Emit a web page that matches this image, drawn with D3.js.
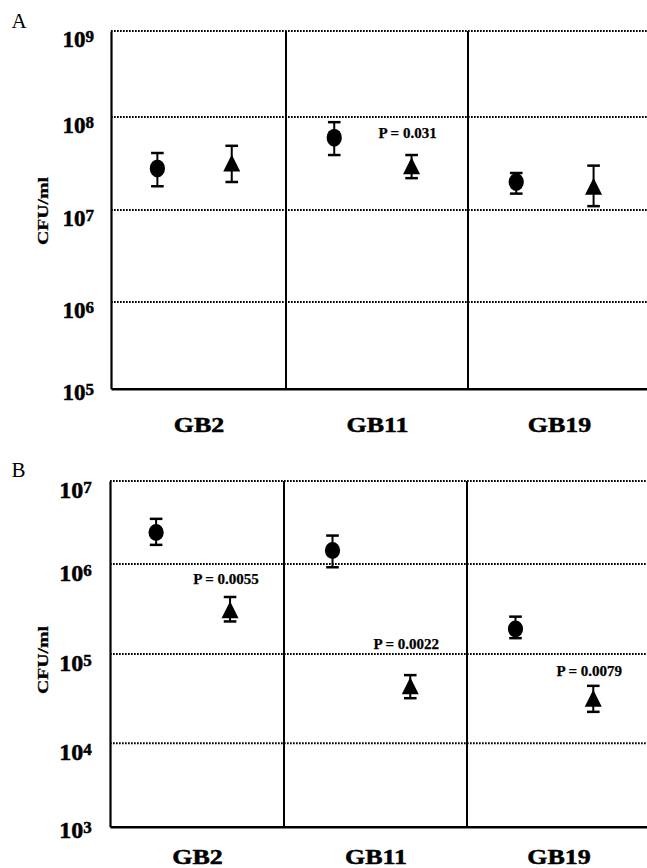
<!DOCTYPE html>
<html><head><meta charset="utf-8">
<script src="https://cdn.jsdelivr.net/npm/d3@7"></script>
<style>
body{margin:0;background:#fff}
svg{display:block}
text{font-family:"Liberation Serif","Times New Roman",serif}
</style>
</head><body>
<svg id="c" width="647" height="868"></svg>
<script>
// ---------- DATA ----------
const categories = ["GB2", "GB11", "GB19"];

// Panel A
const ticksA = [1e5, 1e6, 1e7, 1e8, 1e9];
const circleA = [2.8e7, 6.0e7, 2.0e7];
const circleLowA = [1.8e7, 3.9e7, 1.5e7];
const circleHighA = [4.1e7, 8.8e7, 2.5e7];
const triangleA = [3.2e7, 3.0e7, 1.8e7];
const triangleLowA = [2.0e7, 2.2e7, 1.1e7];
const triangleHighA = [4.9e7, 3.9e7, 3.0e7];
const pTextA = ["", "P = 0.031", ""];
const pLevelA = [null, 6.0e7, null];

// Panel B
const ticksB = [1e3, 1e4, 1e5, 1e6, 1e7];
const circleB = [2.4e6, 1.45e6, 1.9e5];
const circleLowB = [1.7e6, 9.2e5, 1.5e5];
const circleHighB = [3.5e6, 2.2e6, 2.6e5];
const triangleB = [3.1e5, 4.4e4, 3.2e4];
const triangleLowB = [2.3e5, 3.2e4, 2.25e4];
const triangleHighB = [4.3e5, 5.8e4, 4.4e4];
const pTextB = ["P = 0.0055", "P = 0.0022", "P = 0.0079"];
const pLevelB = [6.0e5, 1.14e5, 5.7e4];

const yTitle = "CFU/ml";

// ---------- DRAW ----------
const svg = d3.select("#c");

function drawPanel(cfg) {
  const y = d3.scaleLog().domain(cfg.ticks).range(cfg.yRange);
  const xb = d3.scaleLinear().domain([0, 1, 2, 3]).range(cfg.xRange);
  const left = cfg.xRange[0], right = cfg.xRange[3];
  const top = y(cfg.ticks[cfg.ticks.length - 1]), bottom = y(cfg.ticks[0]);
  const g = svg.append("g");

  // dotted gridlines
  g.append("g").selectAll("line").data(cfg.ticks.slice(1)).join("line")
    .attr("x1", left).attr("x2", right)
    .attr("y1", d => y(d)).attr("y2", d => y(d))
    .attr("stroke", "#000").attr("stroke-width", 2)
    .attr("stroke-dasharray", "1.7,1.3");

  // category separators
  g.append("g").selectAll("line").data([1, 2]).join("line")
    .attr("x1", d => xb(d)).attr("x2", d => xb(d))
    .attr("y1", top).attr("y2", bottom)
    .attr("stroke", "#000").attr("stroke-width", 2);

  // left axis
  const ax = g.append("g").attr("transform", `translate(${left},0)`)
    .call(d3.axisLeft(y).tickValues(cfg.ticks).tickSize(0).tickSizeOuter(0));
  ax.select(".domain").attr("stroke", "#000").attr("stroke-width", 2.2);
  ax.attr("font-family", null).attr("font-size", null);
  ax.selectAll(".tick text").each(function (d) {
    const t = d3.select(this);
    t.text(null)
      .attr("x", cfg.labelX)
      .attr("dy", null)
      .attr("y", d === cfg.ticks[0] ? 11 : cfg.capH)
      .attr("font-weight", "bold")
      .attr("fill", "#000")
      .attr("stroke", "#000").attr("stroke-width", 0.5)
      .attr("text-anchor", "end");
    t.append("tspan").attr("font-size", cfg.tickFont).text("10");
    t.append("tspan").attr("font-size", cfg.supFont).attr("dy", -5)
      .text(Math.round(Math.log10(d)));
  });

  // bottom axis
  const bx = g.append("g").attr("transform", `translate(0,${bottom})`)
    .call(d3.axisBottom(xb).tickValues([0.5, 1.5, 2.5])
      .tickFormat(v => categories[Math.floor(v)]).tickSize(0).tickSizeOuter(0));
  bx.attr("font-family", null).attr("font-size", null);
  bx.select(".domain").attr("stroke", "#000").attr("stroke-width", 2.5);
  bx.selectAll(".tick text")
    .attr("y", cfg.catY).attr("dy", null)
    .attr("font-size", cfg.catFont).attr("font-weight", "bold").attr("fill", "#000")
    .attr("stroke", "#000").attr("stroke-width", 0.5)
    .attr("transform", "scale(1.18,1)");

  // y title
  g.append("text")
    .attr("transform", `translate(47.5,${cfg.titleY}) rotate(-90)`)
    .attr("text-anchor", "middle")
    .attr("font-size", 15).attr("font-weight", "bold")
    .attr("stroke", "#000").attr("stroke-width", 0.3)
    .attr("textLength", 68).attr("lengthAdjust", "spacingAndGlyphs")
    .text(yTitle);

  // panel letter
  g.append("text").attr("x", 11.5).attr("y", cfg.letterY)
    .attr("font-size", 21).text(cfg.letter);

  const series = [
    { shape: "circle", v: cfg.circle, lo: cfg.circleLow, hi: cfg.circleHigh, frac: 0.265 },
    { shape: "triangle", v: cfg.triangle, lo: cfg.triangleLow, hi: cfg.triangleHigh, frac: 0.69 }
  ];

  series.forEach(s => {
    const sg = g.append("g");
    const pts = categories.map((c, i) => ({ x: xb(i + s.frac), y: y(s.v[i]), lo: y(s.lo[i]), hi: y(s.hi[i]) }));
    // error bars
    sg.selectAll(".eb").data(pts).join("line")
      .attr("x1", d => d.x).attr("x2", d => d.x)
      .attr("y1", d => d.lo).attr("y2", d => d.hi)
      .attr("stroke", "#000").attr("stroke-width", 2);
    sg.selectAll(".capHi").data(pts).join("line")
      .attr("x1", d => d.x - 6.3).attr("x2", d => d.x + 6.3)
      .attr("y1", d => d.hi).attr("y2", d => d.hi)
      .attr("stroke", "#000").attr("stroke-width", 2.5);
    sg.selectAll(".capLo").data(pts).join("line")
      .attr("x1", d => d.x - 6.3).attr("x2", d => d.x + 6.3)
      .attr("y1", d => d.lo).attr("y2", d => d.lo)
      .attr("stroke", "#000").attr("stroke-width", 2.5);
    if (s.shape === "circle") {
      sg.selectAll("ellipse").data(pts).join("ellipse")
        .attr("cx", d => d.x).attr("cy", d => d.y)
        .attr("rx", 7.6).attr("ry", cfg.ry).attr("fill", "#000");
    } else {
      sg.selectAll("path").data(pts).join("path")
        .attr("d", d => `M${d.x},${d.y - 8.5}L${d.x + 8.5},${d.y + 8.5}L${d.x - 8.5},${d.y + 8.5}Z`)
        .attr("fill", "#000");
    }
  });

  // P-value annotations
  const ann = categories.map((c, i) => ({ t: cfg.pText[i], lv: cfg.pLevel[i], x: xb(i + 0.69) - 4 }))
    .filter(d => d.t);
  g.selectAll(".pann").data(ann).join("text")
    .attr("x", d => d.x).attr("y", d => y(d.lv))
    .attr("text-anchor", "middle")
    .attr("font-size", 15).attr("font-weight", "bold")
    .attr("stroke", "#000").attr("stroke-width", 0.25)
    .text(d => d.t);
}

drawPanel({
  letter: "A", letterY: 28.3,
  ticks: ticksA, yRange: [388.7, 302, 210, 117, 31], xRange: [111, 286, 468, 650],
  labelX: -17, capH: 15, tickFont: 23, supFont: 17, catY: 43, catFont: 22, titleY: 211, ry: 9,
  circle: circleA, circleLow: circleLowA, circleHigh: circleHighA,
  triangle: triangleA, triangleLow: triangleLowA, triangleHigh: triangleHighA,
  pText: pTextA, pLevel: pLevelA
});

drawPanel({
  letter: "B", letterY: 476.7,
  ticks: ticksB, yRange: [826.7, 743.3, 654, 564, 481], xRange: [110, 284, 467, 650],
  labelX: -18.3, capH: 16.5, tickFont: 24, supFont: 17, catY: 37.5, catFont: 22, titleY: 660, ry: 8.5,
  circle: circleB, circleLow: circleLowB, circleHigh: circleHighB,
  triangle: triangleB, triangleLow: triangleLowB, triangleHigh: triangleHighB,
  pText: pTextB, pLevel: pLevelB
});
</script>
</body></html>
